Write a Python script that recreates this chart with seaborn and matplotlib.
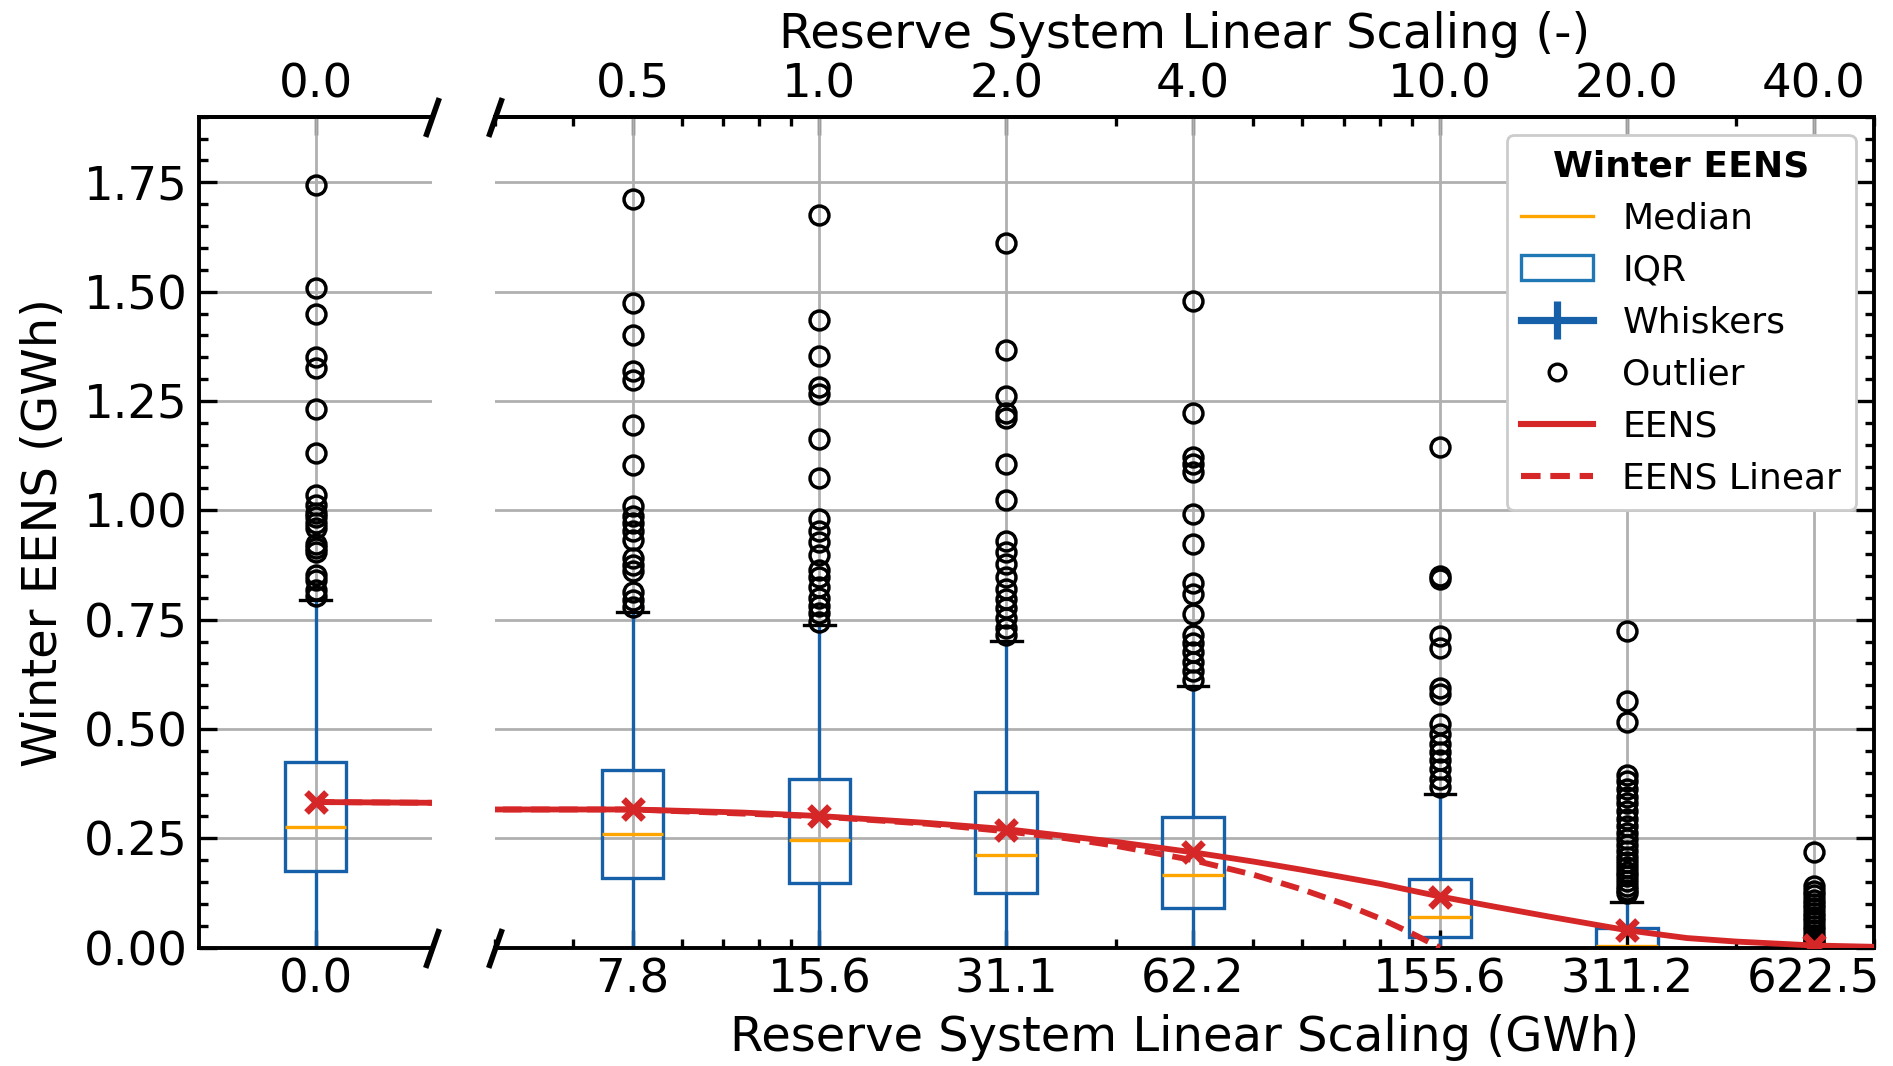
import numpy as np
import pandas as pd
import matplotlib
matplotlib.use("Agg")
import matplotlib.pyplot as plt
from matplotlib.lines import Line2D
from matplotlib.patches import Patch
from matplotlib.ticker import MultipleLocator, NullFormatter, FormatStrFormatter
import seaborn as sns

# ---------------- data ----------------
scaling = [0.0, 0.5, 1.0, 2.0, 4.0, 10.0, 20.0, 40.0]
gwh_labels = ["0.0", "7.8", "15.6", "31.1", "62.2", "155.6", "311.2", "622.5"]
top_labels = ["0.0", "0.5", "1.0", "2.0", "4.0", "10.0", "20.0", "40.0"]

q1 = [0.175, 0.160, 0.149, 0.124, 0.091, 0.025, 0.000, 0.000]
median = [0.275, 0.259, 0.246, 0.212, 0.166, 0.069, 0.003, 0.000]
q3 = [0.425, 0.406, 0.386, 0.356, 0.298, 0.157, 0.044, 0.000]
whisker_low = [0.0, 0.0, 0.0, 0.0, 0.0, 0.0, 0.0, 0.0]
whisker_high = [0.795, 0.767, 0.737, 0.702, 0.599, 0.352, 0.105, 0.000]

outliers_0 = [1.745, 1.508, 1.449, 1.350, 1.325, 1.232, 1.131, 1.035, 1.012, 0.995,
              0.985, 0.970, 0.960, 0.924, 0.913, 0.905, 0.852, 0.840, 0.818, 0.805]
outliers_05 = [1.711, 1.474, 1.400, 1.319, 1.297, 1.195, 1.104, 1.010, 0.988, 0.972,
               0.953, 0.933, 0.890, 0.875, 0.861, 0.814, 0.795, 0.778]
outliers_1 = [1.675, 1.435, 1.352, 1.283, 1.267, 1.162, 1.074, 0.980, 0.952, 0.927,
              0.897, 0.864, 0.847, 0.825, 0.800, 0.781, 0.765, 0.745]
outliers_2 = [1.612, 1.366, 1.261, 1.223, 1.212, 1.107, 1.024, 0.930, 0.905, 0.878,
              0.847, 0.820, 0.798, 0.776, 0.753, 0.731, 0.715]
outliers_4 = [1.479, 1.223, 1.123, 1.107, 1.087, 0.991, 0.922, 0.834, 0.809, 0.762,
              0.715, 0.696, 0.676, 0.654, 0.632, 0.612]
outliers_10 = [1.145, 0.850, 0.842, 0.712, 0.685, 0.593, 0.580, 0.511, 0.489, 0.466,
               0.447, 0.428, 0.408, 0.386, 0.367]
outliers_20 = [0.723, 0.563, 0.516, 0.395, 0.380, 0.362, 0.345, 0.331, 0.312, 0.295,
               0.278, 0.262, 0.248, 0.235, 0.220, 0.207, 0.195, 0.185, 0.172, 0.163,
               0.152, 0.141, 0.132, 0.124]
outliers_40 = [0.218, 0.140, 0.130, 0.120, 0.110, 0.100, 0.090, 0.080, 0.070, 0.060,
               0.050, 0.040, 0.030, 0.022, 0.015, 0.010, 0.005]
outliers = [outliers_0, outliers_05, outliers_1, outliers_2, outliers_4,
            outliers_10, outliers_20, outliers_40]

eens_mean = [0.333, 0.316, 0.300, 0.270, 0.218, 0.116, 0.040, 0.006]

eens_x = [0, 0.5, 0.75, 1, 1.5, 2, 3, 4, 5, 6, 8, 10, 12, 15, 20, 25, 30, 40, 50]
eens_y = [0.333, 0.316, 0.309, 0.301, 0.285, 0.271, 0.242, 0.218, 0.197, 0.178,
          0.146, 0.117, 0.096, 0.071, 0.040, 0.022, 0.014, 0.005, 0.002]

lin_x = [0, 0.5, 1, 1.5, 2, 2.5, 3, 4, 5, 6, 7, 8, 9, 10]
lin_y = [0.333, 0.316, 0.300, 0.283, 0.266, 0.250, 0.233, 0.200, 0.167, 0.133,
         0.100, 0.067, 0.033, 0.000]

# ---------------- build samples that reproduce the box statistics ----------------
M = 200
rows = []
for i, s in enumerate(scaling):
    vals = ([whisker_low[i]] + [q1[i]] * M + [median[i]] * M + [q3[i]] * M
            + [whisker_high[i]] + outliers[i])
    for v in vals:
        rows.append((s, v))
df = pd.DataFrame(rows, columns=["scale", "eens"])
df_left = df[df["scale"] == 0.0]
df_right = df[df["scale"] > 0.0]

# ---------------- style ----------------
FS_TICK = 16.8
FS_LABEL = 17.3
FS_LEG = 13
BOX_BLUE = "#1560a8"
RED = "#d62728"

plt.rcParams["font.family"] = ["DejaVu Sans"]
plt.rcParams["axes.linewidth"] = 1.4

fig = plt.figure(figsize=(9.465, 5.33), dpi=200)
ax1 = fig.add_axes([0.1052, 0.1110, 0.1231, 0.7795])
ax2 = fig.add_axes([0.2615, 0.1110, 0.7283, 0.7795])
ax2.set_xscale("log")

box_kws = dict(
    fill=True,
    linewidth=1.2,
    linecolor=BOX_BLUE,
    color="white",
    boxprops=dict(facecolor="none", edgecolor=BOX_BLUE, linewidth=1.2),
    medianprops=dict(color="orange", linewidth=1.2),
    whiskerprops=dict(color=BOX_BLUE, linewidth=1.2),
    capprops=dict(color="black", linewidth=1.2),
    flierprops=dict(marker="o", markerfacecolor="none", markeredgecolor="black",
                    markersize=6.8, markeredgewidth=1.25),
)
sns.boxplot(data=df_left, x="scale", y="eens", native_scale=True, ax=ax1,
            width=0.0264, **box_kws)
sns.boxplot(data=df_right, x="scale", y="eens", native_scale=True, ax=ax2,
            width=0.33, **box_kws)

for ax in (ax1, ax2):
    ax.plot(eens_x, eens_y, color=RED, lw=2.1, zorder=4)
    ax.plot(lin_x, lin_y, color=RED, lw=2.1, ls=(0, (3.2, 1.6)), zorder=4)
    ax.plot(scaling, eens_mean, ls="none", marker="x", color=RED, markersize=7.5,
            markeredgewidth=2.4, zorder=5)

# limits
ax1.set_xlim(-0.05, 0.05)
ax2.set_xlim(0.3, 50)
for ax in (ax1, ax2):
    ax.set_ylim(0, 1.9)
    ax.yaxis.set_major_locator(MultipleLocator(0.25))
    ax.yaxis.set_minor_locator(MultipleLocator(0.05))
    ax.grid(True, which="major", color="#b0b0b0", linewidth=1.0)
    ax.set_axisbelow(True)

# ticks
ax1.set_xticks([0.0], [gwh_labels[0]])
ax2.set_xticks(scaling[1:], gwh_labels[1:])
ax2.xaxis.set_minor_formatter(NullFormatter())
ax1.yaxis.set_major_formatter(FormatStrFormatter("%.2f"))

tick_common = dict(direction="in", width=1.2)
ax1.tick_params(axis="both", which="both", left=True, right=False, top=False,
                bottom=True, **tick_common)
ax1.tick_params(axis="both", which="major", length=6.5, labelsize=FS_TICK)
ax1.tick_params(axis="y", which="major", pad=4)
ax1.tick_params(axis="both", which="minor", length=3.3)
ax2.tick_params(axis="both", which="both", left=False, right=True, top=False,
                bottom=True, labelleft=False, labelright=False, **tick_common)
ax2.tick_params(axis="both", which="major", length=6.5, labelsize=FS_TICK)
ax2.tick_params(axis="both", which="minor", length=3.3)

ax1.spines["right"].set_visible(False)
ax2.spines["left"].set_visible(False)

# top axes
sec1 = ax1.secondary_xaxis("top")
sec1.set_ticks([0.0], labels=[top_labels[0]])
sec1.tick_params(which="both", direction="in", width=1.2, length=6.5, labelsize=FS_TICK)
sec2 = ax2.secondary_xaxis("top")
sec2.set_ticks(scaling[1:], labels=top_labels[1:])
sec2.xaxis.set_minor_formatter(NullFormatter())
sec2.tick_params(which="major", direction="in", width=1.2, length=6.5, labelsize=FS_TICK)
sec2.tick_params(which="minor", direction="in", width=1.2, length=3.3)
sec2.set_xlabel("Reserve System Linear Scaling (-)", fontsize=FS_LABEL, labelpad=5)

# labels
ax1.set_xlabel("")
ax1.set_ylabel("Winter EENS (GWh)", fontsize=FS_LABEL, labelpad=6)
ax2.set_ylabel("")
ax2.set_xlabel("Reserve System Linear Scaling (GWh)", fontsize=FS_LABEL, labelpad=4)

# broken-axis marks
brk = dict(marker=[(-0.35, -1), (0.35, 1)], markersize=14, linestyle="none",
           color="k", mec="k", mew=2.0, clip_on=False, zorder=10)
ax1.plot([1, 1], [0, 1], transform=ax1.transAxes, **brk)
ax2.plot([0, 0], [0, 1], transform=ax2.transAxes, **brk)

# legend
handles = [
    Line2D([], [], color="orange", lw=1.2, label="Median"),
    Patch(facecolor="white", edgecolor="#1f77b4", lw=1.2, label="IQR"),
    Line2D([], [], color=BOX_BLUE, lw=2.6, marker="|", markersize=14,
           markeredgewidth=2.6, label="Whiskers"),
    Line2D([], [], color="black", ls="none", marker="o", markerfacecolor="none",
           markersize=6, markeredgewidth=1.2, label="Outlier"),
    Line2D([], [], color=RED, lw=2.2, label="EENS"),
    Line2D([], [], color=RED, lw=2.2, ls=(0, (3.2, 1.6)), label="EENS Linear"),
]
ax2.legend(handles=handles, title="Winter EENS", loc="upper right",
           fontsize=FS_LEG, title_fontproperties={"weight": "bold", "size": FS_LEG},
           framealpha=1.0, edgecolor="0.8", labelspacing=0.5, handlelength=2.0)

fig.savefig("out.png", dpi=200)
